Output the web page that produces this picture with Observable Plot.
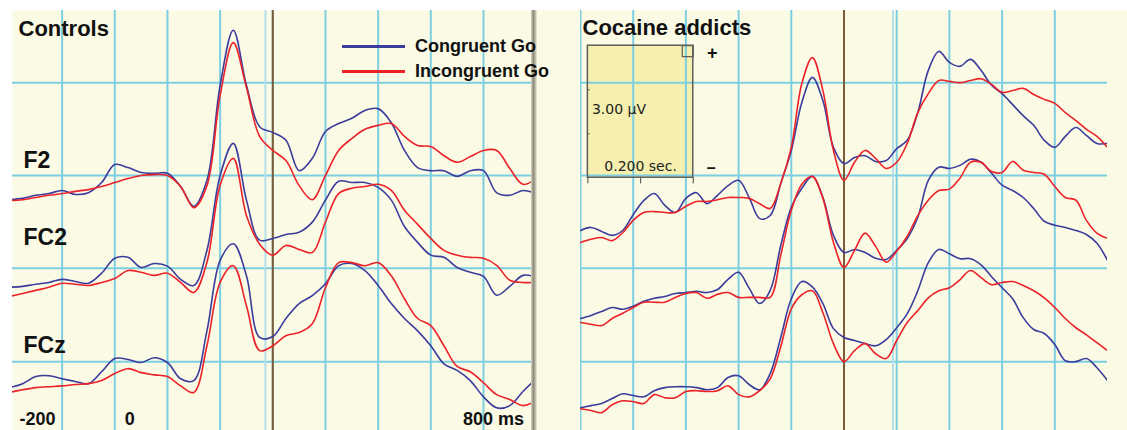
<!DOCTYPE html>
<html><head><meta charset="utf-8">
<script src="https://cdn.jsdelivr.net/npm/d3@7"></script>
<script src="https://cdn.jsdelivr.net/npm/@observablehq/plot@0.6"></script>
<style>
body{margin:0;background:#fff;}
#chart{position:relative;width:1127px;height:430px;overflow:hidden;background:#fff;font-family:"Liberation Sans",Arial,sans-serif;}
#chart svg{position:absolute;top:0;}
#shadow{position:absolute;left:531px;top:10px;width:6px;height:420px;z-index:2;background:linear-gradient(to right,#d6d3bf,#8e8b7b 40%,#b8b5a5 70%,#f2f0dc);}
#legend{position:absolute;left:342px;top:34px;z-index:3;}
#legend .row{display:flex;align-items:center;height:25px;}
#legend .sw{width:63px;height:3px;margin-right:10px;}
#legend .lb{font-weight:bold;font-size:18px;color:#111;white-space:nowrap;}
</style></head>
<body><div id="chart"><div id="shadow"></div><div id="legend"></div></div>
<script>
// ---- time axes (ms) ----
const timesControls = [-200,-175,-150,-125,-100,-75,-50,-25,0,25,50,75,100,125,150,175,200,225,250,275,300,325,350,375,400,425,450,475,500,525,550,575,600,625,650,675,700,725,750,775,800];
const timesCocaine = [-200,-180,-160,-140,-120,-100,-80,-60,-40,-20,0,20,40,60,80,100,120,140,160,180,200,220,240,260,280,300,320,340,360,380,400,420,440,460,480,500,520,540,560,580,600,620,640,660,680,700,720,740,760,780,800];

// ---- Controls (µV relative to each channel baseline) ----
const controlsF2Cong = [-0.55,-0.52,-0.45,-0.41,-0.34,-0.43,-0.39,-0.16,0.25,0.18,0.07,0.05,0.05,-0.25,-0.70,-0.11,2.05,3.30,2.05,1.11,0.98,0.80,0.11,0.39,1.00,1.18,1.30,1.48,1.52,1.20,0.57,0.18,0.11,0.11,-0.02,0.11,0.11,-0.39,-0.45,-0.34,-0.41];
const controlsF2Incong = [-0.57,-0.55,-0.50,-0.45,-0.41,-0.36,-0.32,-0.25,-0.16,-0.07,0,0.02,0,-0.25,-0.73,-0.23,1.82,3.02,2.00,0.89,0.57,0.34,-0.23,-0.55,0,0.57,0.84,1.05,1.14,1.18,0.89,0.68,0.66,0.45,0.30,0.43,0.57,0.57,0.16,-0.20,-0.07];
const controlsFC2Cong = [-0.43,-0.41,-0.36,-0.32,-0.25,-0.30,-0.34,-0.11,0.23,0.25,0.02,0.11,0.05,-0.25,-0.39,0.41,2.11,2.84,1.55,0.64,0.68,0.77,0.82,1.05,1.55,1.98,1.95,1.95,1.84,1.55,0.95,0.59,0.30,0.25,0.02,-0.09,-0.18,-0.61,-0.41,-0.16,-0.20];
const controlsFC2Incong = [-0.64,-0.57,-0.50,-0.43,-0.34,-0.36,-0.39,-0.32,-0.23,-0.05,-0.09,-0.16,-0.11,-0.32,-0.55,0.14,1.89,2.50,1.20,0.55,0.30,0.52,0.43,0.36,1.05,1.70,1.82,1.86,1.91,1.77,1.32,1.00,0.68,0.41,0.30,0.25,0.23,0.07,-0.27,-0.32,-0.32];
const controlsFCzCong = [-0.59,-0.50,-0.34,-0.32,-0.39,-0.45,-0.50,-0.23,0.07,0.05,-0.02,0.09,-0.02,-0.39,-0.43,0.70,2.30,2.68,1.95,0.55,0.57,0.98,1.32,1.50,1.77,2.18,2.23,2.07,1.73,1.32,0.98,0.70,0.36,-0.05,-0.20,-0.43,-0.80,-1.05,-1.00,-0.68,-0.39];
const controlsFCzIncong = [-0.70,-0.64,-0.59,-0.57,-0.55,-0.52,-0.50,-0.43,-0.27,-0.16,-0.25,-0.30,-0.34,-0.55,-0.70,0.36,1.80,2.18,1.27,0.25,0.36,0.59,0.66,0.86,1.68,2.25,2.25,2.18,2.25,1.95,1.43,0.98,0.82,0.36,-0.11,-0.23,-0.48,-0.75,-0.86,-1.00,-0.89];

// ---- Cocaine addicts ----
const cocaineF2Cong = [-1.25,-1.18,-1.27,-1.36,-1.25,-0.89,-0.57,-0.41,-0.68,-0.84,-0.52,-0.39,-0.64,-0.45,-0.23,-0.11,-0.50,-0.98,-0.91,-0.18,0.57,1.66,2.23,1.70,0.64,0.27,0.41,0.45,0.32,0.34,0.61,0.80,1.43,2.39,2.82,2.57,2.48,2.64,2.39,2.05,1.86,1.61,1.36,1.14,0.80,0.64,0.89,1.09,0.91,0.73,0.73];
const cocaineF2Incong = [-1.52,-1.45,-1.41,-1.48,-1.30,-1.02,-0.84,-0.82,-0.84,-0.84,-0.70,-0.59,-0.59,-0.55,-0.50,-0.50,-0.52,-0.64,-0.75,-0.18,0.64,2.09,2.68,1.93,0.57,-0.11,0.30,0.57,0.39,0.16,0.30,0.73,1.43,1.86,2.16,2.14,2.11,2.16,2.20,2.07,1.89,1.93,1.98,1.84,1.73,1.64,1.43,1.25,1.05,0.89,0.64];
const cocaineFC2Cong = [-1.14,-1.07,-0.98,-0.89,-0.93,-0.86,-0.75,-0.68,-0.64,-0.57,-0.55,-0.52,-0.55,-0.48,-0.25,-0.09,-0.45,-0.80,-0.50,0.52,1.39,1.82,2.09,1.61,0.75,0.36,0.43,0.36,0.23,0.20,0.41,0.68,1.16,2.00,2.30,2.27,2.34,2.48,2.41,2.16,1.89,1.77,1.61,1.36,1.07,0.98,0.93,0.86,0.77,0.57,0.18];
const cocaineFC2Incong = [-1.23,-1.27,-1.30,-1.14,-1.02,-0.89,-0.77,-0.77,-0.77,-0.66,-0.57,-0.55,-0.68,-0.59,-0.55,-0.66,-0.66,-0.66,-0.66,0.30,1.32,1.91,2.09,1.59,0.59,0.02,0.41,0.80,0.50,0.14,0.39,0.73,1.20,1.55,1.77,1.80,2.05,2.41,2.41,2.20,2.18,2.43,2.23,2.18,2.14,1.86,1.61,1.55,1.09,0.80,0.68];
const cocaineFCzCong = [-1.05,-1.00,-0.95,-0.84,-0.73,-0.77,-0.80,-0.66,-0.59,-0.57,-0.57,-0.59,-0.64,-0.59,-0.36,-0.32,-0.52,-0.64,-0.27,0.55,1.43,1.82,1.70,1.32,0.75,0.55,0.48,0.41,0.36,0.50,0.77,1.09,1.61,2.25,2.55,2.45,2.34,2.34,2.20,1.93,1.68,1.43,1.00,0.73,0.64,0.39,0.02,0,0.07,-0.14,-0.43];
const cocaineFCzIncong = [-1.07,-1.11,-1.16,-0.98,-0.89,-0.91,-0.95,-0.75,-0.82,-0.82,-0.68,-0.66,-0.68,-0.66,-0.55,-0.75,-0.80,-0.66,-0.39,0.34,1.20,1.52,1.61,1.11,0.41,0,0.25,0.41,0.18,0.07,0.48,0.89,1.16,1.45,1.61,1.68,1.86,2.07,1.91,1.75,1.80,1.82,1.73,1.61,1.45,1.23,0.98,0.77,0.61,0.43,0.25];

// ---- labels, channels, grid ----
const channels = ["F2", "FC2", "FCz"];
const conditions = ["Congruent Go", "Incongruent Go"];
const channelOffsets = [0, -2.11, -4.23];        // µV stacking offsets
const gridLevels = [2.11, 0, -2.11, -4.23];       // µV
const gridTimes = [-200, -100, 0, 100, 200, 300, 400, 500, 600, 700];
const stimulusMarker = [300];
const cursorControls = [286];
const cursorCocaine = [393];
const timeLabelsLeft = [-200, 0];
const timeLabelsRight = [800];
const calibration = [{start: -186, duration: 200, base: -0.05, amplitude: 3}];

// ---- styles ----
const cream = "#fbfae5";
const gridColor = "#7ccfe1";
const brown = "#7d5a38";
const blue = "#3b3c9c";
const red = "#ec2229";
const yDomain = [-5.795, 3.75];
const labelLift = [0.34, 0.69, 0.36];
const font = "Liberation Sans, Arial, sans-serif";

function toRows(times, seriesByChannel) {
  const rows = [];
  seriesByChannel.forEach((pair, ci) => pair.forEach((vals, k) => vals.forEach((v, i) => {
    rows.push({t: times[i], y: channelOffsets[ci] + v, key: channels[ci] + "|" + k, cond: conditions[k]});
  })));
  return rows;
}

const controlsRows = toRows(timesControls, [[controlsF2Cong, controlsF2Incong], [controlsFC2Cong, controlsFC2Incong], [controlsFCzCong, controlsFCzIncong]]);
const cocaineRows = toRows(timesCocaine, [[cocaineF2Cong, cocaineF2Incong], [cocaineFC2Cong, cocaineFC2Incong], [cocaineFCzCong, cocaineFCzIncong]]);

function baseMarks(rows, cursor) {
  return [
    Plot.ruleY(gridLevels, {stroke: gridColor, strokeWidth: 2}),
    Plot.ruleX(gridTimes, {stroke: gridColor, strokeWidth: 2, clip: true}),
    Plot.ruleX(cursor, {stroke: "#b4e0ec", strokeWidth: 2}),
    Plot.ruleX(stimulusMarker, {stroke: brown, strokeWidth: 2}),
    Plot.line(rows, {x: "t", y: "y", z: "key", stroke: "cond", strokeWidth: 1.6, curve: "catmull-rom", clip: true})
  ];
}

const bold = {fontWeight: "bold", fill: "#111", lineAnchor: "middle"};

const left = Plot.plot({
  width: 532, height: 430,
  marginLeft: 12, marginRight: 0, marginTop: 10, marginBottom: 0,
  x: {domain: [-194.2, 793.1], axis: null},
  y: {domain: yDomain, axis: null},
  color: {domain: conditions, range: [blue, red]},
  style: {fontFamily: font, background: "transparent", overflow: "visible"},
  marks: [
    Plot.frame({fill: cream, stroke: "none"}),
    ...baseMarks(controlsRows, cursorControls),
    Plot.text(["Controls"], {frameAnchor: "top-left", textAnchor: "start", dx: 6, dy: 18, fontSize: 22, ...bold}),
    Plot.text(channels, {y: (d, i) => channelOffsets[i] + labelLift[i], text: d => d, frameAnchor: "left", textAnchor: "start", dx: 11, fontSize: 23, ...bold}),
    Plot.text(timeLabelsLeft, {x: d => d, text: d => String(d), frameAnchor: "bottom", textAnchor: "start", dx: 10, dy: -11, fontSize: 18, ...bold}),
    Plot.text(timeLabelsRight, {x: d => d, text: d => `${d} ms`, frameAnchor: "bottom", textAnchor: "end", dx: -12, dy: -11, fontSize: 18, ...bold})
  ]
});

const calStroke = "#5e5e5a";
const right = Plot.plot({
  width: 591, height: 430,
  marginLeft: 44, marginRight: 20, marginTop: 10, marginBottom: 0,
  x: {domain: [-200, 800], axis: null},
  y: {domain: yDomain, axis: null},
  color: {domain: conditions, range: [blue, red]},
  style: {fontFamily: font, background: `linear-gradient(to bottom, #fff 0 10px, ${cream} 10px 100%)`, overflow: "visible"},
  marks: [
    Plot.rect(calibration, {x1: d => d.start, x2: d => d.start + d.duration, y1: d => d.base, y2: d => d.base + d.amplitude, fill: "#f6efb0"}),
    ...baseMarks(cocaineRows, cursorCocaine),
    Plot.rect(calibration, {x1: d => d.start, x2: d => d.start + d.duration, y1: d => d.base, y2: d => d.base + d.amplitude, fill: "none", stroke: calStroke, strokeWidth: 1.5}),
    Plot.ruleX(calibration.flatMap(d => [d.start, d.start + d.duration / 2, d.start + d.duration]), {y1: calibration[0].base, y2: calibration[0].base - 0.14, stroke: calStroke, strokeWidth: 1.2}),
    Plot.ruleY(calibration.flatMap(d => [d.base + 1, d.base + 2]), {x1: calibration[0].start, x2: calibration[0].start + 4, stroke: calStroke, strokeWidth: 1.2}),
    Plot.dot(calibration, {x: d => d.start + d.duration, y: d => d.base + d.amplitude, symbol: "square", r: 6.2, dx: -5.5, dy: 5.5, stroke: calStroke, fill: "none", strokeWidth: 1.2}),
    Plot.text(calibration, {x: d => d.start, y: d => d.base + d.amplitude / 2, text: d => `${d.amplitude.toFixed(2)} µV`, textAnchor: "start", dx: 4, dy: -2, fontSize: 14, fontFamily: "DejaVu Sans", fill: "#222", lineAnchor: "middle"}),
    Plot.text(calibration, {x: d => d.start + d.duration / 2, y: d => d.base, text: d => `${(d.duration / 1000).toFixed(3)} sec.`, textAnchor: "middle", dy: -11, fontSize: 14, fontFamily: "DejaVu Sans", fill: "#222", lineAnchor: "middle"}),
    Plot.text(calibration, {x: d => d.start + d.duration, y: d => d.base + d.amplitude, text: () => "+", dx: 19, dy: 8, fontSize: 18, ...bold}),
    Plot.text(calibration, {x: d => d.start + d.duration, y: d => d.base, text: () => "–", dx: 18, dy: -10, fontSize: 16, ...bold}),
    Plot.text(["Cocaine addicts"], {frameAnchor: "top-left", textAnchor: "start", dx: 2, dy: 17, fontSize: 22, ...bold})
  ]
});

const chart = document.getElementById("chart");
left.style.left = "0px";
right.style.left = "536px";
chart.appendChild(left);
chart.appendChild(right);

const legend = document.getElementById("legend");
conditions.forEach((c, i) => {
  const row = document.createElement("div");
  row.className = "row";
  const sw = document.createElement("span");
  sw.className = "sw";
  sw.style.background = [blue, red][i];
  const lb = document.createElement("span");
  lb.className = "lb";
  lb.textContent = c;
  row.appendChild(sw); row.appendChild(lb);
  legend.appendChild(row);
});
</script></body></html>
